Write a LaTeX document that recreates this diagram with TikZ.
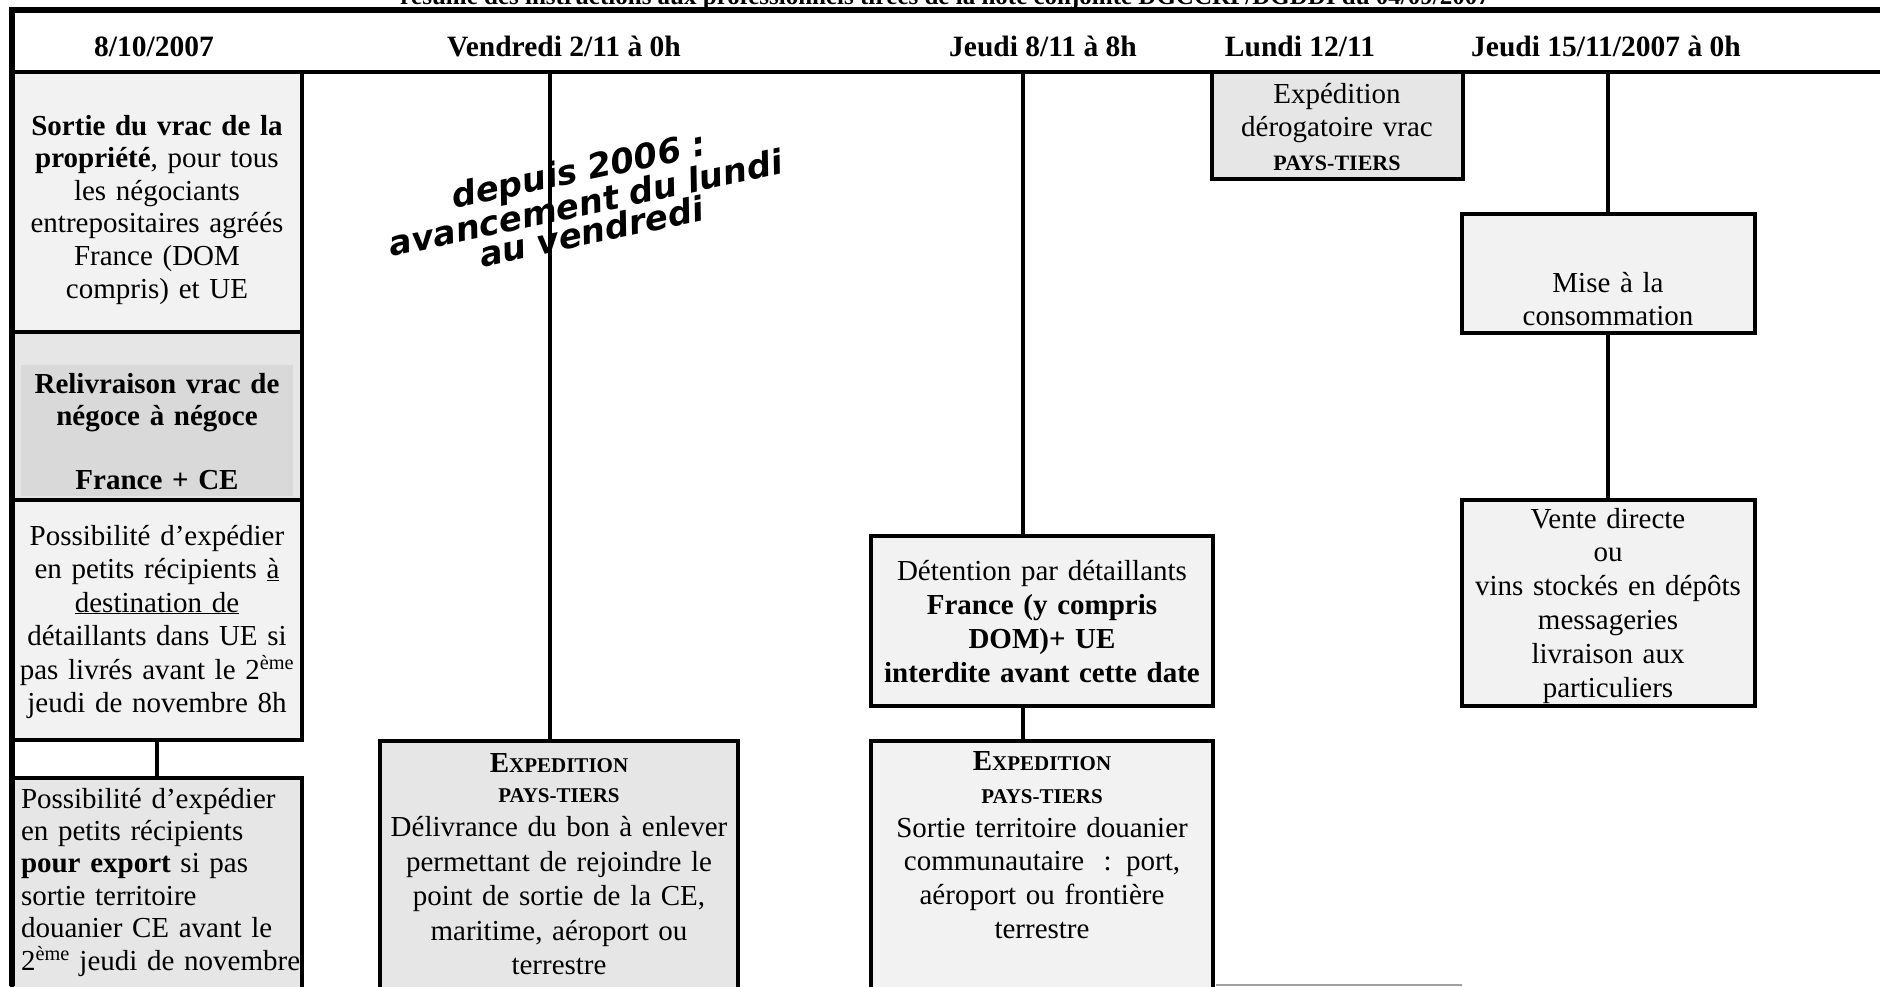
\documentclass[tikz,border=0pt]{standalone}
\usepackage{fontspec}
\setmainfont{Liberation Serif}
\newfontfamily\wordart{DejaVu Sans}
\definecolor{lg}{HTML}{F2F2F2}
\definecolor{mg}{HTML}{E6E6E6}
\definecolor{dg}{HTML}{D9D9D9}
\definecolor{edgegray}{HTML}{A0A0A0}
\setlength{\lineskiplimit}{-100pt}
\begin{document}
\begin{tikzpicture}[x=1pt,y=-1pt,
  box/.style={draw=black, line width=3.2pt, inner sep=0pt, outer sep=0pt, anchor=north west},
  txt/.style={inner sep=0pt, outer sep=0pt, anchor=base, align=center},
  hdr/.style={inner sep=0pt, outer sep=0pt, anchor=base, font=\fontsize{29.5}{29.5}\selectfont\bfseries},
  conn/.style={line width=3.5pt},
  bar/.style={line width=5pt}]

\useasboundingbox (0,0) rectangle (1880,986);

% clipped title at the very top
\node[anchor=base, inner sep=0pt, font=\fontsize{25}{25}\selectfont\bfseries] (title) at (945,4.5)
  {résumé des instructions aux professionnels tirées de la note conjointe DGCCRF/DGDDI du 04/09/2007};

% boxes
\node[box, fill=lg, minimum width=290pt, minimum height=260pt] (b1) at (12,72) {};
\node[box, fill=mg, minimum width=290pt, minimum height=168pt] (b2) at (12,332) {};
\node[inner sep=0pt, outer sep=0pt, anchor=north west, fill=dg, minimum width=272pt, minimum height=131pt] (b2in) at (21,365) {};
\node[box, fill=lg, minimum width=290pt, minimum height=240pt] (b3) at (12,500) {};
\node[box, fill=mg, minimum width=290pt, minimum height=240pt] (b4) at (12,778) {};
\node[box, fill=mg, minimum width=358pt, minimum height=270pt] (d1) at (380,741) {};
\node[box, fill=lg, line width=4.5pt, minimum width=342pt, minimum height=170pt] (det) at (871,536) {};
\node[box, fill=lg, minimum width=342pt, minimum height=270pt] (d2) at (871,741) {};
\node[box, fill=mg, minimum width=251pt, minimum height=107pt] (derog) at (1212,72) {};
\node[box, fill=lg, minimum width=293pt, minimum height=119pt] (mise) at (1462,214) {};
\node[box, fill=lg, minimum width=293pt, minimum height=206pt] (vente) at (1462,500) {};

% faint edge at the bottom
\coordinate (g1) at (1216,985);
\coordinate (g2) at (1462,985);
\draw[edgegray, line width=2pt] (g1) -- (g2);

% connectors
\coordinate (cV) at (550,72);
\coordinate (cJ) at (1023,72);
\coordinate (cQ) at (1608,72);
\draw[conn] (cV) -- (cV |- d1.north);
\draw[conn] (cJ) -- (cJ |- det.north);
\draw[conn] (cJ |- det.south) -- (cJ |- d2.north);
\draw[conn] (cQ) -- (cQ |- mise.north);
\draw[conn] (cQ |- mise.south) -- (cQ |- vente.north);
\draw[conn] (b3.south) -- (b4.north);

% frame
\coordinate (ftl) at (9,10);
\coordinate (ftr) at (1880,10);
\coordinate (fhl) at (9,72);
\coordinate (fhr) at (1880,72);
\coordinate (flt) at (12,7);
\coordinate (flb) at (12,986);
\draw[line width=5.5pt] (ftl) -- (ftr);
\draw[line width=4.5pt] (fhl) -- (fhr);
\draw[line width=5.5pt] (flt) -- (flb);

% header
\node[hdr] (h1) at (154,56) {8/10/2007};
\node[hdr] (h2) at (564,56) {Vendredi 2/11 à 0h};
\node[hdr] (h3) at (1043,56) {Jeudi 8/11 à 8h};
\node[hdr] (h4) at (1300,56) {Lundi 12/11};
\node[hdr] (h5) at (1606,56) {Jeudi 15/11/2007 à 0h};

% texts
\node[txt, text width=300pt, font=\fontsize{29}{32.6}\selectfont] (t1) at (157,135)
  {\textbf{Sortie du vrac de la}\\ \textbf{propriété}, pour tous\\ les négociants\\ entrepositaires agréés\\ France (DOM\\ compris) et UE};

\node[txt, text width=300pt, font=\fontsize{29}{32}\selectfont\bfseries] (t2) at (157,393)
  {Relivraison vrac de\\ négoce à négoce\\[32pt] France + CE};

\node[txt, text width=300pt, font=\fontsize{29}{33.5}\selectfont] (t3) at (157,545)
  {Possibilité d’expédier\\ en petits récipients \underline{à}\\ \underline{destination de}\\ détaillants dans UE si\\ pas livrés avant le 2\textsuperscript{ème}\\ jeudi de novembre 8h};

\node[txt, anchor=base west, align=left, text width=285pt, font=\fontsize{29}{32.4}\selectfont] (t4) at (21,808)
  {Possibilité d’expédier\\ en petits récipients\\ \textbf{pour export} si pas\\ sortie territoire\\ douanier CE avant le\\ 2\textsuperscript{ème} jeudi de novembre};

\node[txt, text width=350pt, font=\fontsize{29}{34.5}\selectfont] (t5) at (559,772)
  {{\bfseries E\fontsize{21}{21}\selectfont XPEDITION}\\[-4.5pt] {\bfseries\fontsize{21}{21}\selectfont PAYS-TIERS}\\ Délivrance du bon à enlever\\ permettant de rejoindre le\\ point de sortie de la CE,\\ maritime, aéroport ou\\ terrestre};

\node[txt, text width=340pt, font=\fontsize{29}{34}\selectfont] (t6) at (1042,580)
  {Détention par détaillants\\ \textbf{France (y compris}\\ \textbf{DOM)+ UE}\\ \textbf{interdite avant cette date}};

\node[txt, text width=340pt, font=\fontsize{29}{33.6}\selectfont] (t7) at (1042,770)
  {{\bfseries E\fontsize{21}{21}\selectfont XPEDITION}\\ {\bfseries\fontsize{21}{21}\selectfont PAYS-TIERS}\\ Sortie territoire douanier\\ communautaire~ : port,\\ aéroport ou frontière\\ terrestre};

\node[txt, text width=250pt, font=\fontsize{29}{33.5}\selectfont] (t8) at (1337,103)
  {Expédition\\ dérogatoire vrac\\ {\bfseries\fontsize{22}{22}\selectfont PAYS-TIERS}};

\node[txt, text width=290pt, font=\fontsize{29}{33}\selectfont] (t9) at (1608,292)
  {Mise à la\\ consommation};

\node[txt, text width=290pt, font=\fontsize{29}{33.8}\selectfont] (t10) at (1608,528)
  {Vente directe\\ ou\\ vins stockés en dépôts\\ messageries\\ livraison aux\\ particuliers};

% tilted note
\node[anchor=base, rotate=12, inner sep=0pt, text width=500pt, align=center,
      font=\wordart\bfseries\itshape\fontsize{34}{29}\selectfont] (wa) at (581,182)
  {depuis 2006 :\\ avancement du lundi\\ au vendredi};

\end{tikzpicture}
\end{document}
